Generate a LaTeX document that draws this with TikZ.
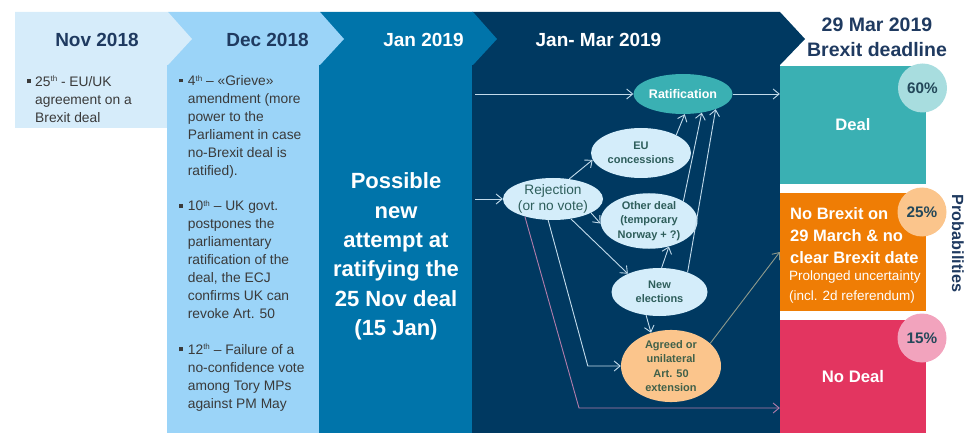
\documentclass[tikz,border=0pt]{standalone}
\usepackage{fontspec}
\setmainfont{Liberation Sans}
\usetikzlibrary{arrows.meta,shapes.geometric}
\definecolor{novc}{HTML}{D6ECFA}
\definecolor{decc}{HTML}{9BD4F8}
\definecolor{janc}{HTML}{0074AA}
\definecolor{marc}{HTML}{003961}
\definecolor{navy}{HTML}{1F3A60}
\definecolor{txtgray}{HTML}{3A3A3A}
\definecolor{dealc}{HTML}{3AB0B3}
\definecolor{dealp}{HTML}{A8DDDF}
\definecolor{orc}{HTML}{EF7D05}
\definecolor{orp}{HTML}{FBC58C}
\definecolor{pkc}{HTML}{E33560}
\definecolor{pkp}{HTML}{F2A3BD}
\definecolor{pctc}{HTML}{24485A}
\definecolor{ellc}{HTML}{D4EDFA}
\definecolor{elltxt}{HTML}{2E5E5B}
\definecolor{agrtxt}{HTML}{41614A}
\definecolor{arrc}{HTML}{C2DBEB}
\definecolor{pinkline}{HTML}{B27CAA}
\definecolor{grayline}{HTML}{8E9A8C}
\newcommand\fs[2]{\fontsize{#1}{#2}\selectfont}
\newcommand\bul{\llap{\rule[3pt]{4pt}{4pt}\hspace{4.5pt}}}
\newcommand\thsup{\raisebox{4.5pt}{\fs{8}{8}th}}
\tikzset{
  ell/.style={ellipse, inner sep=0pt, align=center},
  lightell/.style={ell, fill=ellc, text=elltxt, font=\bfseries\fs{11}{14.2}},
  arr/.style={draw=arrc, line width=0.9pt, -{Straight Barb[length=6pt,width=10pt]}},
  box/.style={inner sep=0pt, minimum width=146pt},
  pct/.style={circle, minimum size=49pt, inner sep=0pt, font=\bfseries\fs{15.3}{18}, text=pctc},
  hdr/.style={font=\bfseries\fs{19}{23}},
  bodytxt/.style={anchor=north west, inner sep=0pt, align=left, font=\fs{13.8}{18}, text=txtgray}
}
\begin{document}
\begin{tikzpicture}[x=1pt,y=-1pt]
\useasboundingbox (0,0) rectangle (967,433);
% body columns
\fill[novc] (15,65) rectangle (168,128);
\fill[decc] (167,65) rectangle (319,433);
\fill[janc] (319,65) rectangle (472,433);
\fill[marc] (472,65) rectangle (780,433);
% header chevrons (right to left)
\fill[marc] (472,12) -- (780,12) -- (805,39) -- (780,65) -- (472,65) -- cycle;
\fill[janc] (320,12) -- (473,12) -- (497,39) -- (473,65) -- (320,65) -- cycle;
\fill[decc] (168,12) -- (320,12) -- (344,39) -- (320,65) -- (168,65) -- cycle;
\fill[novc] (15,12) -- (168,12) -- (192,39) -- (168,65) -- (15,65) -- cycle;
\node[hdr, text=navy] (hnov) at (97,39.5) {Nov 2018};
\node[hdr, text=navy] (hdec) at (267.5,39.5) {Dec 2018};
\node[hdr, text=white] (hjan) at (423.5,39.5) {Jan 2019};
\node[hdr, text=white] (hmar) at (598.5,39.5) {Jan- Mar 2019};
\node[anchor=north, align=center, inner sep=0pt, font=\bfseries\fs{19.5}{25}, text=navy] (hdead) at (877,18) {29 Mar 2019\\Brexit deadline};
% body texts
\node[bodytxt] (novtxt) at (35,76) {\bul 25\thsup{} - EU/UK\\agreement on a\\Brexit deal};
\node[bodytxt] (dectxt) at (187.7,75) {\bul 4\thsup{} – «Grieve»\\amendment (more\\power to the\\Parliament in case\\no-Brexit deal is\\ratified).\\[17.5pt]
\bul 10\thsup{} – UK govt.\\postpones the\\parliamentary\\ratification of the\\deal, the ECJ\\confirms UK can\\revoke Art. 50\\[17.5pt]
\bul 12\thsup{} – Failure of a\\no-confidence vote\\among Tory MPs\\against PM May};
\node[anchor=north, align=center, inner sep=0pt, font=\bfseries\fs{22}{29.4}, text=white] (jantxt) at (396,172.5) {Possible\\new\\attempt at\\ratifying the\\25 Nov deal\\(15 Jan)};
% outcome boxes
\node[box, fill=dealc, minimum height=118pt, text=white, font=\bfseries\fs{16.6}{20}] (deal) at (853,125) {Deal};
\node[box, fill=orc, minimum height=118pt] (nob) at (853,252) {};
\node[box, fill=pkc, minimum height=113pt, text=white, font=\bfseries\fs{16.7}{20}] (nodeal) at (853,376.5) {No Deal};
\node[anchor=north west, inner sep=0pt, align=left, text=white, font=\bfseries\fs{16.5}{22}] (nobt) at (790,207) {No Brexit on\\29 March \& no\\clear Brexit date};
\node[anchor=north west, inner sep=0pt, align=left, text=white, font=\fs{13.5}{19.5}] (nobs) at (789,271) {Prolonged uncertainty\\(incl. 2d referendum)};
\node[pct, fill=dealp] (p60) at (922.5,88) {60\%};
\node[pct, fill=orp] (p25) at (922,212) {25\%};
\node[pct, fill=pkp] (p15) at (922,338) {15\%};
\node[rotate=-90, font=\bfseries\fs{16.2}{19}, text=navy] (prob) at (958,243.5) {Probabilities};
% scenario tree
\node[ell, fill=dealc, minimum width=99pt, minimum height=40pt, text=white, font=\bfseries\fs{12.5}{15}] (rat) at (683,94) {Ratification};
\node[lightell, minimum width=100pt, minimum height=50pt] (eu) at (641,153) {EU\\concessions};
\node[ell, fill=ellc, text=elltxt, font=\fs{13.7}{16.6}, minimum width=100pt, minimum height=42pt] (rej) at (553,199) {Rejection\\(or no vote)};
\node[lightell, minimum width=97pt, minimum height=48pt, font=\bfseries\fs{11}{14.5}] (oth) at (649,221) {Other deal\\(temporary\\Norway + ?)};
\node[lightell, minimum width=96pt, minimum height=48pt] (new) at (659.5,292) {New\\elections};
\node[ell, fill=orp, text=agrtxt, font=\bfseries\fs{11}{14.3}, minimum width=100pt, minimum height=67pt] (agr) at (671,366) {Agreed or\\unilateral\\Art. 50\\extension};
\coordinate (s1) at (475,94);
\coordinate (s2) at (475,199);
\coordinate (pk) at (579,408);
\draw[arr] (s1) -- (rat.west);
\draw[arr] (rat.east) -- (rat.east -| deal.west);
\draw[arr] (s2) -- (rej.west);
\draw[arr] (rej.51) -- (eu.188);
\draw[arr] (rej.-20) -- (oth.183);
\draw[arr] (rej.-48) -- (new.150);
\draw[arr] (rej.-103) -- ([xshift=-33pt]agr.west) -- (agr.west);
\draw[arr, draw=pinkline] (rej.212) -- (pk) -- (pk -| nodeal.west);
\draw[arr] (eu.27) -- (rat.-85);
\draw[arr] (oth.30) -- (rat.-45);
\draw[arr] (new.35) -- (rat.-25);
\draw[arr] (new.85) -- (oth.-52);
\draw[arr] (new.-120) -- (agr.121);
\draw[arr, draw=grayline] (agr.30) -- (nob.west);
\end{tikzpicture}
\end{document}
